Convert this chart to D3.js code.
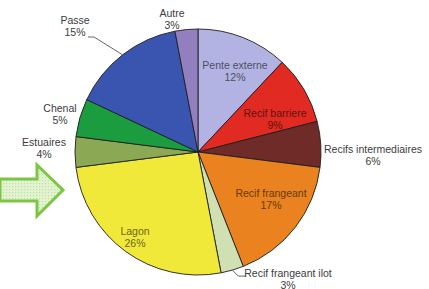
<!DOCTYPE html>
<html>
<head>
<meta charset="utf-8">
<script src="https://cdn.jsdelivr.net/npm/d3@7"></script>
<style>
  html, body { margin: 0; padding: 0; background: #fff; }
  svg { display: block; }
  text { font-family: "Liberation Sans", Arial, sans-serif; font-size: 10.5px; }
</style>
</head>
<body>
<div id="chart"></div>
<script>
// clockwise from 12 o'clock
const categories = ["Pente externe", "Recif barriere", "Recifs intermediaires", "Recif frangeant",
                    "Recif frangeant ilot", "Lagon", "Estuaires", "Chenal", "Passe", "Autre"];
const values = [12, 9, 6, 17, 3, 26, 4, 5, 15, 3];
const colors = ["#b3b3e3", "#e02a22", "#6e2b27", "#e9821f", "#d0e0b2",
                "#f1e93a", "#8ba955", "#1a9c3f", "#3a55b0", "#917fc0"];

// label anchor (offset from pie centre), inside?, leader?  one per slice
const labelAt = [
  [37, -81, true, false], [77, -33, true, false], [175, 3, false, false], [73, 47, true, false],
  [90, 127, false, true], [-63, 85, true, false], [-154, -4, false, false], [-138, -38, false, false],
  [-123, -126, false, true], [-26, -133, false, false]
];

const width = 429, height = 289;
const cx = 198, cy = 152, r = 123;

const svg = d3.select("#chart").append("svg")
    .attr("width", width)
    .attr("height", height);

// dotted fill for the arrow
const defs = svg.append("defs");
const pat = defs.append("pattern")
    .attr("id", "dots")
    .attr("width", 3).attr("height", 3)
    .attr("patternUnits", "userSpaceOnUse");
pat.append("rect").attr("width", 3).attr("height", 3).attr("fill", "#e3f3d2");
pat.append("rect").attr("width", 1.2).attr("height", 1.2).attr("fill", "#bfe2a0");

// green arrow pointing at the pie
const arrow = [[0, 179], [37, 179], [37, 165], [63, 190], [37, 216], [37, 201], [0, 201]];
svg.append("path")
    .attr("d", d3.line()(arrow) + "Z")
    .attr("fill", "url(#dots)")
    .attr("stroke", "#7cc644")
    .attr("stroke-width", 3)
    .attr("stroke-linejoin", "miter");

const pie = d3.pie().sort(null).value(d => d);
const arcs = pie(values);
const arc = d3.arc().innerRadius(0).outerRadius(r);

const g = svg.append("g").attr("transform", `translate(${cx},${cy})`);

g.selectAll("path.slice")
  .data(arcs)
  .join("path")
    .attr("class", "slice")
    .attr("d", arc)
    .attr("fill", (d, i) => colors[i])
    .attr("stroke", "#1e1e1e")
    .attr("stroke-width", 0.9);

// leader lines for the two labels that need them
arcs.forEach((d, i) => {
  if (!labelAt[i][3]) return;
  const a = (d.startAngle + d.endAngle) / 2;
  const p0 = [Math.sin(a) * r, -Math.cos(a) * r];
  const [lx, ly] = labelAt[i];
  const pts = ly < 0
    ? [p0, [lx + 19, ly + 11], [lx + 13, ly + 11]]
    : [p0, [p0[0] + 6, p0[1] + 6], [lx - 42, p0[1] + 6]];
  g.append("path")
    .attr("d", d3.line()(pts))
    .attr("fill", "none")
    .attr("stroke", "#555")
    .attr("stroke-width", 0.9);
});

const labels = g.selectAll("text.lbl")
  .data(arcs)
  .join("text")
    .attr("class", "lbl")
    .attr("text-anchor", "middle")
    .attr("fill", (d, i) => labelAt[i][2] ? d3.color(colors[i]).darker(2.3) : "#3c3c3c")
    .attr("transform", (d, i) => `translate(${labelAt[i][0]},${labelAt[i][1]})`);

labels.append("tspan")
    .attr("x", 0).attr("y", -2)
    .text((d, i) => categories[i]);
labels.append("tspan")
    .attr("x", 0).attr("y", 10)
    .text(d => d.data + "%");
</script>
</body>
</html>
